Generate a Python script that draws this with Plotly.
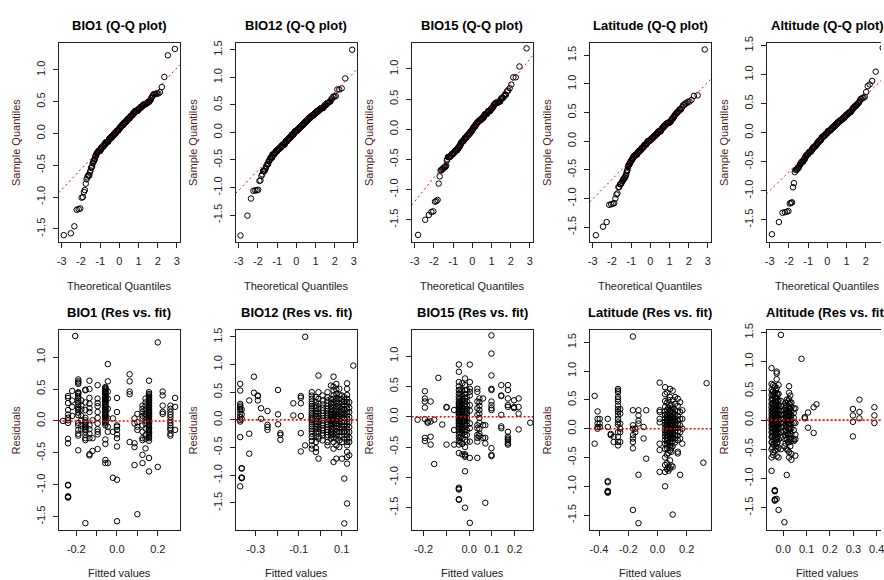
import numpy as np
import plotly.graph_objects as go
from statistics import NormalDist

# ---------------- data (fitted value levels and residuals at each level) ----------------
names = ["BIO1", "BIO12", "BIO15", "Latitude", "Altitude"]

bio1_fit = [-0.265, -0.24, -0.22, -0.205, -0.19, -0.175, -0.155, -0.135, -0.12, -0.095,
            -0.057, -0.045, -0.02, 0.0, 0.062, 0.086, 0.1, 0.125, 0.14, 0.157,
            0.2, 0.224, 0.262, 0.285]
bio1_res = [
    [0.0],
    [0.39, 0.36, 0.28, 0.17, 0.10, 0.05, 0.01, -0.03, -0.28, -0.35, -1.0, -1.01, -1.18, -1.19, -1.2],
    [0.47, 0.32, 0.22, 0.08],
    [1.33],
    [0.65, 0.62, 0.6, 0.58, 0.45, 0.44, 0.42, 0.39, 0.36, 0.32, 0.29, 0.26, 0.22, 0.19, 0.17, 0.13,
     0.09, -0.03, -0.07, -0.14, -0.2, -0.23, -0.46],
    [0.32, 0.24, 0.18, 0.08, 0.01, -0.07, -0.13],
    [0.49, 0.48, 0.29, 0.17, 0.05, 0.01, -0.02, -0.04, -0.07, -0.09, -0.12, -0.14, -0.17, -0.22,
     -0.27, -0.3, -1.6],
    [0.63, 0.5, 0.36, 0.27, 0.2, 0.14, -0.07, -0.13, -0.2, -0.27, -0.52, -0.54],
    [0.01, -0.27, -0.47],
    [0.56, 0.35, 0.28, 0.23, 0.14, 0.05, -0.04, -0.13, -0.17, -0.21, -0.44],
    [0.53, 0.52, 0.5, 0.49, 0.47, 0.46, 0.45, 0.43, 0.42, 0.4, 0.39, 0.37, 0.36, 0.35, 0.33, 0.32,
     0.3, 0.29, 0.27, 0.26, 0.24, 0.22, 0.21, 0.19, 0.17, 0.16, 0.14, 0.12, 0.11, 0.09, 0.07, 0.05,
     0.04, 0.02, 0.0, -0.02, -0.04, -0.07, -0.29, -0.36, -0.61, -0.66],
    [0.89, 0.62, 0.46, 0.35, 0.19, 0.04, -0.09, -0.17, -0.66],
    [0.04, -0.17, -0.89],
    [0.36, 0.14, -0.07, -0.09, -0.14, -0.21, -0.27, -0.4, -0.92, -1.57],
    [0.73, 0.62, 0.46, 0.42, -0.33],
    [0.04, -0.04, -0.35, -0.41, -0.69],
    [0.11, -0.02, -0.09, -0.14, -1.46],
    [0.24, 0.19, 0.14, 0.08, 0.04, -0.07, -0.17, -0.27, -0.3, -0.53, -0.66],
    [0.35, 0.29, 0.24, 0.17, 0.11, 0.06, 0.01, -0.04, -0.12, -0.22, -0.28, -0.43],
    [0.63, 0.45, 0.42, 0.4, 0.38, 0.36, 0.35, 0.33, 0.32, 0.3, 0.28, 0.27, 0.25, 0.23, 0.22, 0.2,
     0.18, 0.17, 0.15, 0.13, 0.12, 0.1, 0.08, 0.07, 0.05, 0.03, 0.02, 0.0, -0.02, -0.04, -0.06,
     -0.08, -0.1, -0.12, -0.14, -0.16, -0.18, -0.2, -0.22, -0.25, -0.27, -0.31, -0.58, -0.79],
    [1.23, -0.72],
    [0.46, 0.4, 0.24, 0.14, 0.11],
    [0.24, 0.19, 0.14, 0.1, 0.06, 0.01, -0.03, -0.07, -0.11, -0.14, -0.2, -0.23],
    [0.36, 0.22, -0.14],
]

bio12_fit = [-0.372, -0.365, -0.33, -0.308, -0.29, -0.275, -0.245, -0.196, -0.185, -0.125,
             -0.09, -0.07, -0.039, -0.02, -0.008, 0.011, 0.034, 0.05, 0.062, 0.075,
             0.089, 0.101, 0.112, 0.125, 0.135, 0.154]
bio12_res = [
    [0.65, 0.53, 0.29, 0.26, 0.23, 0.2, 0.17, 0.11, 0.05, 0.0, -0.03, -0.31, -1.2],
    [0.19, 0.1, 0.02, -0.87, -0.88, -1.04, -1.05, -1.05],
    [0.35, -0.25, -0.61],
    [0.78, 0.49],
    [0.44, 0.43, 0.35],
    [0.21, 0.02],
    [0.16, -0.09, -0.13, -0.18],
    [0.54, 0.1, -0.08],
    [-0.24, -0.27, -0.36],
    [0.3, 0.08],
    [0.43, 0.4, 0.3, 0.07, -0.24, -0.57],
    [1.5, -0.46],
    [0.5, 0.44, 0.38, 0.33, 0.29, 0.25, 0.21, 0.17, 0.13, 0.1, 0.06, 0.03, 0.0, -0.04, -0.08,
     -0.12, -0.16, -0.2, -0.25, -0.31, -0.38, -0.46, -0.52],
    [0.41, 0.32, 0.26, 0.21, 0.16, 0.11, 0.06, 0.02, -0.03, -0.07, -0.12, -0.17, -0.23, -0.3,
     -0.4, -0.51, -0.58],
    [0.8, 0.5, 0.38, 0.29, 0.2, 0.13, 0.07, 0.02, -0.04, -0.1, -0.16, -0.22, -0.3, -0.34, -0.7],
    [0.44, 0.35, 0.28, 0.22, 0.17, 0.12, 0.07, 0.03, -0.01, -0.06, -0.1, -0.15, -0.19, -0.24,
     -0.28, -0.37],
    [0.5, 0.41, 0.35, 0.3, 0.25, 0.2, 0.16, 0.12, 0.08, 0.04, 0.0, -0.04, -0.08, -0.13, -0.18,
     -0.22, -0.27, -0.31, -0.4, -0.46],
    [0.62, 0.38, 0.3, 0.24, 0.19, 0.14, 0.09, 0.05, 0.02, -0.02, -0.06, -0.1, -0.16, -0.22,
     -0.28, -0.34],
    [0.78, 0.6, 0.53, 0.44, 0.38, 0.32, 0.27, 0.22, 0.17, 0.12, 0.08, 0.04, 0.0, -0.04, -0.09,
     -0.14, -0.19, -0.25, -0.32, -0.4, -0.52, -0.76],
    [0.65, 0.55, 0.47, 0.4, 0.34, 0.29, 0.24, 0.19, 0.14, 0.1, 0.06, 0.02, -0.02, -0.06, -0.11,
     -0.16, -0.22, -0.28, -0.34, -0.46, -0.7],
    [0.56, 0.45, 0.38, 0.3, 0.23, 0.16, 0.1, 0.04, -0.02, -0.07, -0.14, -0.22, -0.3, -0.37, -0.49],
    [0.44, 0.37, 0.32, 0.26, 0.2, 0.14, 0.08, 0.03, -0.04, -0.1, -0.16, -0.22, -0.28, -0.4, -0.7],
    [0.41, 0.33, 0.26, 0.18, 0.11, 0.03, -0.04, -0.12, -0.22, -0.34, -1.06, -1.87],
    [0.66, 0.56, 0.45, 0.38, 0.32, 0.26, 0.2, 0.14, 0.08, 0.02, -0.04, -0.1, -0.16, -0.22, -0.28,
     -0.34, -0.4, -0.46, -0.58, -0.67, -0.79, -1.51],
    [0.32, 0.22, 0.14, 0.05, -0.04, -0.13, -0.22, -0.32, -0.4, -0.64],
    [0.98],
]

bio15_fit = [-0.226, -0.194, -0.182, -0.169, -0.153, -0.135, -0.118, -0.099, -0.066, -0.045,
             -0.038, -0.03, -0.018, -0.01, 0.003, 0.036, 0.045, 0.061, 0.071, 0.098,
             0.141, 0.17, 0.197, 0.217, 0.268]
bio15_res = [
    [-0.05],
    [0.42, 0.3, 0.25, 0.15, -0.04, -0.35, -0.4],
    [-0.08, -0.1],
    [0.25, -0.08, -0.33, -0.46],
    [-0.05, -0.78],
    [0.64],
    [-0.13],
    [0.16, 0.15, -0.46],
    [0.11, -0.22, -0.46],
    [0.86, 0.74, 0.57, 0.5, 0.44, 0.38, 0.33, 0.29, 0.25, 0.22, 0.19, 0.16, 0.13, 0.1, 0.08, 0.05,
     0.03, 0.0, -0.02, -0.05, -0.07, -0.1, -0.12, -0.15, -0.18, -0.21, -0.25, -0.3, -0.35, -0.4,
     -0.46, -0.6, -1.17, -1.19, -1.2, -1.36, -1.37],
    [0.45, 0.37, 0.3, 0.24, 0.18, 0.12, 0.07, 0.02, -0.03, -0.08, -0.14, -0.2, -0.27, -0.35, -0.42],
    [0.55, 0.42, 0.34, 0.27, 0.21, 0.16, 0.12, 0.08, 0.04, 0.0, -0.04, -0.08, -0.12, -0.17, -0.22,
     -0.28, -0.36, -0.45, -0.62],
    [0.63, 0.52, 0.44, 0.37, 0.31, 0.26, 0.21, 0.17, 0.13, 0.09, 0.05, 0.02, -0.01, -0.04, -0.07,
     -0.11, -0.15, -0.2, -0.25, -0.3, -0.38, -0.5, -0.62, -0.64, -0.66, -0.9, -1.5],
    [0.44, 0.32, 0.25, 0.19, 0.13, 0.08, 0.04, -0.02, -0.08, -0.14, -0.22, -0.3, -0.41],
    [0.86, 0.57, 0.46, 0.41, 0.35, 0.19, 0.1, -0.11, -0.19, -0.41, -0.68, -1.75],
    [0.46, 0.41, 0.25, 0.14, 0.03, -0.14, -0.19, -0.3, -0.35, -0.41, -0.68],
    [0.3, 0.24, 0.18, 0.11, 0.05, -0.02, -0.1, -0.2, -0.28, -0.32],
    [0.3, -0.14, -0.35],
    [-0.14, -0.35, -0.44, -1.42],
    [1.34, 1.04, 0.68, 0.46, 0.44, 0.25, 0.19, 0.14, 0.11, -0.52, -0.63, -0.65],
    [0.52, 0.35, 0.34, 0.03, -0.16, -0.19],
    [0.52, 0.44, 0.3, 0.19, 0.16, -0.25, -0.33, -0.36, -0.38, -0.41, -0.44, -0.46],
    [0.27, 0.16, 0.14],
    [0.3, 0.16, 0.05, -0.21],
    [-0.1],
]

lat_fit = [-0.43, -0.41, -0.395, -0.34, -0.32, -0.3, -0.27, -0.255, -0.168, -0.152,
           -0.13, -0.095, -0.077, 0.015, 0.052, 0.065, 0.075, 0.086, 0.095, 0.104,
           0.12, 0.139, 0.155, 0.17, 0.314, 0.336]
lat_res = [
    [0.57, -0.26],
    [0.3, 0.17, 0.09, 0.03, 0.0],
    [0.17, 0.09, 0.03],
    [0.17, 0.03, -0.91, -0.93, -1.08, -1.09, -1.1, -1.11],
    [-0.09, -0.11],
    [-0.14, -0.23],
    [0.69, 0.66, 0.63, 0.55, 0.51, 0.47, 0.4, 0.34, 0.29, 0.23, 0.17, 0.11, 0.07, -0.06, -0.14,
     -0.23, -0.29],
    [0.34, 0.26, 0.09, 0.0, -0.06, -0.23],
    [1.6, 0.32, 0.06, 0.0, -0.11, -0.17, -0.23, -0.34, -1.41],
    [0.0, -0.06],
    [0.32, 0.23, 0.14, 0.09, -0.8, -1.64],
    [0.03, -0.17],
    [0.32, -0.52],
    [0.8, 0.32, 0.29, 0.17, 0.11, -0.26, -0.37, -0.75],
    [0.72, 0.6, 0.48, 0.38, 0.3, 0.24, 0.18, 0.12, 0.07, 0.02, -0.03, -0.08, -0.13, -0.19, -0.26,
     -0.35, -0.5, -0.63, -0.75, -1.0],
    [0.63, 0.45, 0.33, 0.26, 0.2, 0.15, 0.1, 0.05, 0.01, -0.03, -0.07, -0.11, -0.16, -0.21, -0.27,
     -0.34, -0.45, -0.6, -0.7],
    [0.5, 0.36, 0.28, 0.22, 0.17, 0.12, 0.08, 0.04, 0.0, -0.04, -0.09, -0.14, -0.19, -0.25, -0.32,
     -0.42, -0.66, -0.73],
    [0.69, 0.55, 0.4, 0.31, 0.24, 0.18, 0.13, 0.09, 0.05, 0.01, -0.03, -0.07, -0.12, -0.17, -0.23,
     -0.3, -0.38, -0.55, -0.69],
    [0.42, 0.33, 0.26, 0.2, 0.14, 0.09, 0.04, -0.01, -0.06, -0.11, -0.17, -0.24, -0.33, -0.4, -0.64],
    [0.66, 0.5, 0.37, 0.28, 0.21, 0.15, 0.1, 0.05, 0.0, -0.05, -0.1, -0.16, -0.22, -0.3, -0.66, -1.49],
    [0.55, 0.43, 0.32, 0.25, 0.18, 0.12, 0.06, 0.01, -0.05, -0.11, -0.17, -0.24],
    [0.52, 0.4, 0.3, 0.22, 0.15, 0.08, 0.02, -0.05, -0.12, -0.2, -0.4, -0.43],
    [0.46, 0.29, 0.17, 0.06, -0.06, -0.17, -0.8],
    [0.32, 0.17, 0.0, -0.26],
    [-0.59],
    [0.79],
]

alt_fit = [-0.05, -0.047, -0.043, -0.036, -0.032, -0.028, -0.024, -0.02, -0.01, 0.005,
           0.01, 0.015, 0.02, 0.025, 0.03, 0.035, 0.045, 0.052, 0.078, 0.092,
           0.106, 0.13, 0.142, 0.298, 0.326, 0.39]
alt_res = [
    [0.89, 0.62, 0.52, 0.43, 0.35, 0.28, 0.22, 0.16, 0.1, 0.04, -0.02, -0.08, -0.14, -0.21, -0.29,
     -0.38, -0.5, -0.64, -0.87],
    [0.48, 0.37, 0.27, 0.19, 0.12, 0.05, -0.01, -0.07, -0.13, -0.2, -0.28, -0.37, -0.47],
    [0.6, 0.5, 0.42, 0.35, 0.29, 0.24, 0.19, 0.14, 0.1, 0.06, 0.02, -0.02, -0.06, -0.1, -0.15, -0.2,
     -0.26, -0.33, -0.42, -0.55, -0.6],
    [0.58, 0.47, 0.39, 0.32, 0.26, 0.21, 0.16, 0.12, 0.08, 0.04, 0.0, -0.04, -0.08, -0.13, -0.18,
     -0.24, -0.31, -0.4, -0.52, -1.2, -1.21, -1.22, -1.36, -1.37, -1.38],
    [0.51, 0.4, 0.31, 0.23, 0.16, 0.09, 0.03, -0.03, -0.1, -0.17, -0.25, -0.34, -0.45],
    [0.83, 0.8, 0.7, 0.55, 0.45, 0.37, 0.3, 0.24, 0.18, 0.13, 0.08, 0.03, -0.02, -0.07, -0.12,
     -0.18, -0.24, -0.31, -0.4, -0.62, -1.35],
    [0.44, 0.33, 0.25, 0.18, 0.11, 0.05, -0.01, -0.07, -0.14, -0.21, -0.29, -0.38, -0.5],
    [0.6, 0.45, 0.34, 0.25, 0.17, 0.1, 0.04, -0.02, -0.08, -0.15, -0.23, -0.33, -0.47, -0.64, -1.54],
    [1.46, 0.33, 0.24, 0.16, 0.09, 0.02, -0.05, -0.12, -0.2, -0.3, -0.5],
    [0.25, 0.17, 0.1, 0.03, -0.04, -0.11, -0.2, -0.32, -0.45, -1.75],
    [0.3, 0.21, 0.13, 0.06, -0.01, -0.08, -0.16, -0.26, -0.4],
    [0.35, 0.25, 0.17, 0.1, 0.03, -0.04, -0.12, -0.22, -0.34, -0.5, -0.94],
    [0.32, 0.23, 0.14, 0.07, 0.0, -0.07, -0.15, -0.24, -0.37, -0.52],
    [0.58, 0.47, 0.36, 0.28, 0.2, 0.13, 0.06, 0.0, -0.07, -0.15, -0.25, -0.38, -0.55, -0.64],
    [0.42, 0.3, 0.19, 0.1, 0.02, -0.06, -0.14, -0.23, -0.33, -0.45],
    [0.3, 0.22, 0.15, 0.08, 0.01, -0.06, -0.14, -0.24, -0.35, -0.58, -0.68],
    [0.2, 0.12, 0.04, -0.05, -0.17, -0.33, -0.36],
    [0.2, -0.05, -0.25, -0.33, -0.61],
    [1.05],
    [0.05, 0.03],
    [0.13, -0.13],
    [0.22, -0.22],
    [0.27],
    [0.19, 0.08, -0.03, -0.28],
    [0.35, 0.14, 0.03],
    [0.22, 0.08, -0.05],
]

fits = [bio1_fit, bio12_fit, bio15_fit, lat_fit, alt_fit]
resids = [bio1_res, bio12_res, bio15_res, lat_res, alt_res]

# axis ranges / ticks
y_ranges = [[-1.70, 1.43], [-1.98, 1.63], [-1.86, 1.435], [-1.75, 1.72], [-1.875, 1.55]]
y_ticks = [[-1.5, -1.0, -0.5, 0.0, 0.5, 1.0],
           [-1.5, -1.0, -0.5, 0.0, 0.5, 1.0, 1.5],
           [-1.5, -1.0, -0.5, 0.0, 0.5, 1.0],
           [-1.5, -1.0, -0.5, 0.0, 0.5, 1.0, 1.5],
           [-1.5, -1.0, -0.5, 0.0, 0.5, 1.0, 1.5]]
qq_ticks = [-3, -2, -1, 0, 1, 2, 3]
res_x_ranges = [[-0.286, 0.309], [-0.393, 0.171], [-0.252, 0.28], [-0.464, 0.366], [-0.071, 0.448]]
res_x_ticks = [[-0.2, -0.1, 0.0, 0.1, 0.2],
               [-0.3, -0.2, -0.1, 0.0, 0.1],
               [-0.2, -0.1, 0.0, 0.1, 0.2],
               [-0.4, -0.2, 0.0, 0.2],
               [0.0, 0.1, 0.2, 0.3, 0.4]]
res_x_labels = [["-0.2", "", "0.0", "", "0.2"],
                ["-0.3", "", "-0.1", "", "0.1"],
                ["-0.2", "", "0.0", "0.1", "0.2"],
                ["-0.4", "-0.2", "0.0", "0.2"],
                ["0.0", "0.1", "0.2", "0.3", "0.4"]]

# ---------------- layout geometry (window pixels) ----------------
W, H = 884, 580
FONT = "Liberation Sans, Arial, Helvetica, sans-serif"
lefts = [57, 235, 412, 591, 769]
BW = 122
rows = [(37, 238), (327, 529)]
title_y = [20, 310]
xlab_y = [283, 573]


def px(x):
    return x / W


def py(y):
    return 1 - y / H


nd = NormalDist()
fig = go.Figure()
annotations = []
shapes = []
layout_axes = {}


def fmt(v):
    return "%.1f" % v


def add_axes(idx, col, row, xrange, xticks, xlabels, yrange, yticks, clip_right):
    sfx = "" if idx == 1 else str(idx)
    l = lefts[col]
    r = min(l + BW, W)
    t, b = rows[row]
    base = dict(showline=True, linecolor="#222", linewidth=1, ticks="outside", ticklen=5,
                tickwidth=1, tickcolor="#222", showgrid=False, zeroline=False,
                ticklabeloverflow="allow",
                tickfont=dict(family=FONT, size=11, color="#222"))
    layout_axes["xaxis" + sfx] = dict(base, domain=[px(l), px(r)], range=xrange,
                                      tickmode="array", tickvals=xticks, ticktext=xlabels,
                                      mirror=True, anchor="y" + sfx, ticklabelstandoff=4)
    layout_axes["yaxis" + sfx] = dict(base, domain=[py(b), py(t)], range=yrange,
                                      tickmode="array", tickvals=yticks,
                                      ticktext=[fmt(v) for v in yticks], tickangle=-90,
                                      mirror=(not clip_right), anchor="x" + sfx,
                                      ticklabelstandoff=3)
    return sfx


for i, name in enumerate(names):
    fit_levels = fits[i]
    groups = resids[i]
    fx, ry = [], []
    for f, g in zip(fit_levels, groups):
        for v in g:
            fx.append(f)
            ry.append(v)
    ry_arr = np.array(ry)
    n = len(ry_arr)
    srt = np.sort(ry_arr)
    theo = [nd.inv_cdf((k + 0.5) / n) for k in range(n)]
    clip = (i == 4)
    vis = (min(lefts[i] + BW, W) - lefts[i]) / BW   # visible fraction of the box

    # ----- Q-Q panel -----
    qx_range = [-3.16, -3.16 + 6.32 * vis]
    sfx = add_axes(i + 1, i, 0, qx_range, qq_ticks, [str(v) for v in qq_ticks],
                   y_ranges[i], y_ticks[i], clip)
    fig.add_trace(go.Scatter(x=theo, y=srt, mode="markers", xaxis="x" + sfx, yaxis="y" + sfx,
                             marker=dict(symbol="circle-open", size=5.5, color="black",
                                         line=dict(width=1, color="black")),
                             hoverinfo="skip"))
    q1, q3 = np.quantile(ry_arr, [0.25, 0.75])
    x1, x3 = nd.inv_cdf(0.25), nd.inv_cdf(0.75)
    slope = (q3 - q1) / (x3 - x1)
    icpt = q1 - slope * x1
    lx = [qx_range[0], qx_range[1]]
    fig.add_trace(go.Scatter(x=lx, y=[icpt + slope * v for v in lx], mode="lines",
                             xaxis="x" + sfx, yaxis="y" + sfx,
                             line=dict(color="red", width=1, dash="2px,3px"), hoverinfo="skip"))

    # ----- residuals vs fitted panel -----
    rx = res_x_ranges[i]
    rx_vis = [rx[0], rx[0] + (rx[1] - rx[0]) * vis]
    sfx2 = add_axes(i + 6, i, 1, rx_vis, res_x_ticks[i], res_x_labels[i],
                    y_ranges[i], y_ticks[i], clip)
    fig.add_trace(go.Scatter(x=fx, y=ry, mode="markers", xaxis="x" + sfx2, yaxis="y" + sfx2,
                             marker=dict(symbol="circle-open", size=5.5, color="black",
                                         line=dict(width=1, color="black")),
                             hoverinfo="skip"))
    shapes.append(dict(type="line", xref="x" + sfx2 + " domain", yref="y" + sfx2,
                       x0=0, x1=1, y0=0, y1=0,
                       line=dict(color="red", width=1.6, dash="2px,2px")))

    cx = px(lefts[i] + BW / 2)
    for row, ttl, xl, yl in [(0, name + " (Q-Q plot)", "Theoretical Quantiles", "Sample Quantiles"),
                             (1, name + " (Res vs. fit)", "Fitted values", "Residuals")]:
        annotations.append(dict(text="<b>" + ttl + "</b>", x=cx, y=py(title_y[row]),
                                xref="paper", yref="paper", showarrow=False,
                                xanchor="center", yanchor="middle",
                                font=dict(family=FONT, size=13, color="black")))
        annotations.append(dict(text=xl, x=cx, y=py(xlab_y[row]), xref="paper", yref="paper",
                                showarrow=False, xanchor="center", yanchor="middle",
                                font=dict(family=FONT, size=11, color="#222")))
        t, b = rows[row]
        annotations.append(dict(text=yl, x=px(lefts[i] - 43), y=py((t + b) / 2),
                                xref="paper", yref="paper", showarrow=False, textangle=-90,
                                xanchor="center", yanchor="middle",
                                font=dict(family=FONT, size=11, color="#4a2418")))

fig.update_layout(**layout_axes)
fig.update_layout(width=W, height=H, margin=dict(l=0, r=0, t=0, b=0),
                  paper_bgcolor="white", plot_bgcolor="white", showlegend=False,
                  annotations=annotations, shapes=shapes)
fig.write_html("out.html",
               config={"displayModeBar": False, "staticPlot": True},
               post_script="document.body.style.margin='0px';"
                           "document.body.style.overflow='hidden';")
